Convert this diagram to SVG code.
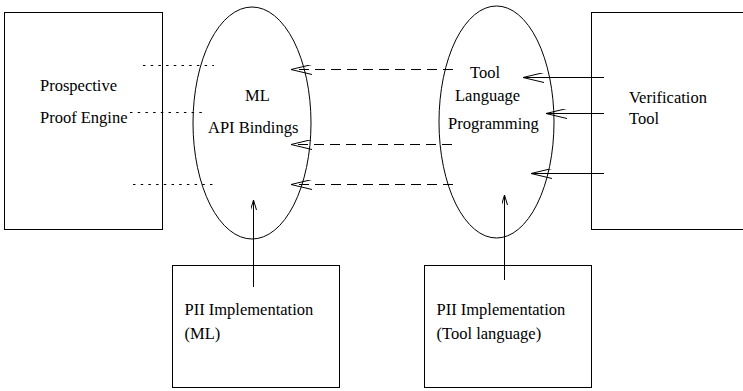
<svg xmlns="http://www.w3.org/2000/svg" width="743" height="391" viewBox="0 0 743 391">
<style>
.box{fill:#fff;stroke:#000;stroke-width:1}
.ell{fill:none;stroke:#000;stroke-width:1}
.t{font-family:"Liberation Serif","DejaVu Serif","Times New Roman",serif;font-size:16.5px;fill:#000}
.dash{stroke:#000;stroke-width:1;stroke-dasharray:10,6;fill:none}
.dot{stroke:#000;stroke-width:1;stroke-dasharray:2.5,5.2;fill:none}
.solid{stroke:#000;stroke-width:1;fill:none}
</style>
<defs>
<marker id="open" viewBox="0 0 21 10" refX="21" refY="5" markerWidth="21" markerHeight="10" markerUnits="userSpaceOnUse" orient="auto">
<path d="M0,0 L21,5 L0,10" fill="none" stroke="#000" stroke-width="1"/>
</marker>
<marker id="small" viewBox="0 0 10 6" refX="10" refY="3" markerWidth="10" markerHeight="6" markerUnits="userSpaceOnUse" orient="auto">
<path d="M0,0 L10,3 L0,6" fill="none" stroke="#000" stroke-width="1"/>
</marker>
</defs>
<rect width="743" height="391" fill="#fff"/>
<g id="proof-engine">
<rect class="box" x="4.5" y="12.5" width="158" height="217"/>
<text class="t" x="40" y="91">Prospective</text>
<text class="t" x="40" y="122.5">Proof Engine</text>
</g>
<g id="ml-bindings">
<ellipse class="ell" cx="252" cy="123" rx="59" ry="116"/>
<text class="t" x="245" y="101">ML</text>
<text class="t" x="208" y="133">API Bindings</text>
</g>
<g id="tool-language">
<ellipse class="ell" cx="496.5" cy="122" rx="57.5" ry="116"/>
<text class="t" x="470" y="78">Tool</text>
<text class="t" x="455" y="101">Language</text>
<text class="t" x="448" y="128.5">Programming</text>
</g>
<g id="verification-tool">
<rect class="box" x="591.5" y="12.5" width="160" height="217"/>
<text class="t" x="629" y="103">Verification</text>
<text class="t" x="629" y="124">Tool</text>
</g>
<g id="pii-ml">
<rect class="box" x="172.5" y="265.5" width="167" height="122"/>
<text class="t" x="184.5" y="315">PII Implementation</text>
<text class="t" x="184.5" y="339">(ML)</text>
</g>
<g id="pii-tool">
<rect class="box" x="424.5" y="265.5" width="167" height="122"/>
<text class="t" x="436.5" y="315">PII Implementation</text>
<text class="t" x="436.5" y="338.5">(Tool language)</text>
</g>
<g id="connectors">
<line class="dot" x1="143" y1="65.5" x2="214" y2="65.5"/>
<line class="dot" x1="130" y1="112.5" x2="206" y2="112.5"/>
<line class="dot" x1="133" y1="184.5" x2="214" y2="184.5"/>
<line class="dash" x1="453" y1="69.5" x2="291" y2="69.5" marker-end="url(#open)"/>
<line class="dash" x1="452" y1="144.5" x2="291" y2="144.5" marker-end="url(#open)"/>
<line class="dash" x1="453" y1="184.5" x2="291" y2="184.5" marker-end="url(#open)"/>
<line class="solid" x1="604" y1="77.5" x2="523" y2="77.5" marker-end="url(#open)"/>
<line class="solid" x1="604" y1="113.5" x2="546" y2="113.5" marker-end="url(#open)"/>
<line class="solid" x1="604" y1="173.5" x2="531" y2="173.5" marker-end="url(#open)"/>
<line class="solid" x1="253.5" y1="287" x2="253.5" y2="200" marker-end="url(#small)"/>
<line class="solid" x1="504.5" y1="280" x2="504.5" y2="195" marker-end="url(#small)"/>
</g>
</svg>
